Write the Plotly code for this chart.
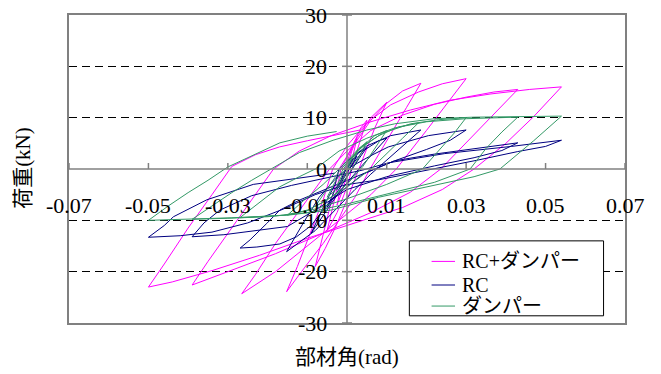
import plotly.graph_objects as go

# ---------------- data ----------------
x_tick_vals = [-0.07, -0.05, -0.03, -0.01, 0.01, 0.03, 0.05, 0.07]
x_tick_text = ["-0.07", "-0.05", "-0.03", "-0.01", "0.01", "0.03", "0.05", "0.07"]
y_tick_vals = [-30, -20, -10, 0, 10, 20, 30]
y_tick_text = ["-30", "-20", "-10", "0", "10", "20", "30"]
y_grid_vals = [-20, -10, 10, 20]

series_names = ["RC+ダンパー", "RC", "ダンパー"]
series_colors = ["#FF00FF", "#000080", "#339966"]

rc_damper_x = [
    0, 0.0012, 0.0025, 0.0012, -0.0005, -0.0015, -0.0025, -0.0012, 0.0005, 0.002, 0.0035, 0.005,
    0.0025, 0.0, -0.0025, -0.005, -0.003, -0.0015, 0.002, 0.006, 0.010, 0.007, 0.003, 0.0,
    -0.003, -0.0055, -0.008, -0.006, -0.004, -0.002,
    0.002, 0.006, 0.010, 0.014, 0.0186, 0.015, 0.0105, 0.0058, 0.002, -0.002, -0.006, -0.010,
    -0.0152, -0.0125, -0.009, -0.006, -0.0036,
    0.0, 0.005, 0.011, 0.018, 0.024, 0.030, 0.026, 0.020, 0.0124, 0.006, -0.002, -0.010, -0.018,
    -0.0265, -0.023, -0.018, -0.011, -0.0044,
    0.0, 0.006, 0.014, 0.022, 0.030, 0.037, 0.043, 0.038, 0.031, 0.0236, 0.016, 0.006, -0.006,
    -0.018, -0.030, -0.039, -0.035, -0.029, -0.024, -0.0185,
    -0.012, -0.004, 0.006, 0.016, 0.026, 0.036, 0.046, 0.054, 0.047, 0.040, 0.032, 0.024, 0.014,
    0.002, -0.010, -0.022, -0.034, -0.044, -0.050, -0.046, -0.040, -0.034, -0.029, -0.023, -0.017,
    -0.010, -0.004, 0.0033,
]
rc_damper_y = [
    0, 3.5, 6.0, 1.5, -2.5, -5.0, -7.0, -2.0, 2.5, 5.5, 8.0, 9.5,
    3.5, -3.5, -8.5, -12.0, -5.5, 0.0, 5.5, 10.0, 13.0, 8.0, 0.0, -6.0,
    -11.5, -15.5, -19.0, -13.0, -6.5, 0.0,
    5.0, 9.5, 12.8, 15.2, 16.7, 12.0, 6.0, 0.0, -5.5, -10.0, -14.5, -18.5,
    -23.9, -19.0, -12.0, -6.0, 0.0,
    4.5, 9.0, 12.5, 15.0, 16.6, 17.6, 13.5, 7.5, 0.0, -5.0, -10.0, -15.0, -20.0,
    -24.3, -20.5, -14.5, -7.0, 0.0,
    3.5, 7.5, 10.5, 12.6, 14.0, 15.0, 15.5, 11.5, 6.0, 0.0, -4.5, -8.5, -12.5,
    -16.5, -20.0, -22.6, -18.0, -11.5, -6.0, 0.0,
    3.5, 6.5, 9.2, 11.5, 13.4, 14.6, 15.5, 16.0, 10.2, 5.0, 0.0, -4.0, -7.5,
    -10.5, -13.5, -16.8, -19.8, -22.0, -23.0, -18.5, -11.5, -5.0, 0.5, 2.8, 4.3,
    5.5, 6.4, 7.6,
]

rc_x = [
    0, 0.0012, 0.0025, 0.001, -0.001, -0.0025, -0.001, 0.001, 0.003, 0.005, 0.003, 0.0,
    -0.003, -0.005, -0.003, 0.0, 0.004, 0.008, 0.010, 0.007, 0.003, -0.002, -0.006, -0.009,
    -0.006, -0.003, -0.002,
    0.0, 0.005, 0.011, 0.0186, 0.014, 0.009, 0.006, 0.002, -0.003, -0.008, -0.0152, -0.011,
    -0.007, -0.003, 0.0,
    0.006, 0.0104, 0.0205, 0.030, 0.026, 0.020, 0.012, 0.004, -0.004, -0.009, -0.0127, -0.0169,
    -0.0227, -0.0269, -0.0244, -0.0202, -0.0169, -0.0118, -0.004, 0.005,
    0.012, 0.022, 0.033, 0.043, 0.039, 0.032, 0.022, 0.010, 0.0, -0.008, -0.015, -0.0244,
    -0.031, -0.039, -0.036, -0.032, -0.024, -0.014, -0.004, 0.004,
    0.0104, 0.0246, 0.0414, 0.054, 0.050, 0.043, 0.033, 0.0205, 0.008, -0.0005, -0.008, -0.016,
    -0.025, -0.034, -0.042, -0.050, -0.046, -0.0437, -0.0353, -0.0236, -0.0118, -0.003,
]
rc_y = [
    0, 1.5, 2.5, 0.5, -2.0, -4.0, -1.2, 1.5, 3.2, 4.2, 2.0, -1.5,
    -5.0, -7.5, -4.0, -0.5, 3.5, 5.5, 6.0, 3.5, 0.0, -4.5, -9.0, -12.5,
    -7.5, -3.0, 0.0,
    1.5, 4.5, 6.5, 7.6, 4.5, 1.0, -1.0, -4.0, -8.0, -12.0, -16.1, -10.5,
    -5.5, -2.0, 0.0,
    2.6, 4.3, 6.5, 7.6, 5.6, 3.8, 1.6, -1.0, -6.0, -11.0, -13.2, -14.6,
    -15.2, -15.4, -13.8, -10.6, -8.0, -6.0, -3.5, -0.5,
    1.6, 2.9, 4.0, 5.1, 3.6, 2.2, 0.6, -1.5, -4.0, -8.0, -11.2, -12.2,
    -12.8, -13.2, -10.5, -8.0, -5.2, -3.2, -1.6, -0.2,
    1.2, 3.0, 4.4, 5.6, 4.4, 3.4, 1.75, -0.2, -2.1, -3.1, -5.0, -7.8,
    -10.5, -12.3, -13.0, -13.3, -11.0, -9.3, -6.0, -3.0, -1.8, -0.8,
]

damper_x = [
    0, 0.0012, 0.0025, 0.001, -0.001, -0.0025, -0.001, 0.001, 0.003, 0.005, 0.003, 0.0,
    -0.003, -0.005, -0.003, 0.0, 0.004, 0.007, 0.010, 0.007, 0.004, 0.0, -0.004, -0.008,
    -0.005, -0.002,
    0.003, 0.008, 0.013, 0.018, 0.014, 0.009, 0.006, 0.0, -0.006, -0.010, -0.015, -0.011,
    -0.006, -0.002,
    0.003, 0.009, 0.016, 0.023, 0.030, 0.027, 0.023, 0.019, 0.010, 0.0, -0.008, -0.016,
    -0.027, -0.022, -0.017, -0.012, -0.008,
    -0.002, 0.005, 0.012, 0.020, 0.030, 0.043, 0.039, 0.035, 0.031, 0.022, 0.012, 0.0,
    -0.010, -0.020, -0.030, -0.039, -0.034, -0.029, -0.024, -0.019,
    -0.012, -0.0035, 0.005, 0.012, 0.022, 0.032, 0.043, 0.054, 0.047, 0.041, 0.0385, 0.032,
    0.020, 0.008, -0.004, -0.015, -0.029, -0.040, -0.050, -0.045, -0.040, -0.035, -0.030,
    -0.0169, -0.010, -0.0026,
]
damper_y = [
    0, 2.0, 3.2, 0.8, -1.8, -3.2, -0.8, 1.8, 4.0, 5.3, 2.3, -1.5,
    -4.2, -5.5, -2.5, 1.0, 4.5, 6.5, 7.5, 4.0, 0.5, -3.0, -5.5, -7.3,
    -3.8, -0.5,
    3.8, 6.5, 8.2, 9.0, 6.0, 2.2, 0.0, -3.5, -6.5, -8.0, -9.0, -6.2,
    -3.0, 0.0,
    4.0, 7.0, 8.8, 9.6, 10.0, 7.0, 3.5, 0.0, -3.0, -5.8, -7.8, -9.0,
    -9.5, -6.5, -3.5, -1.5, 0.0,
    3.5, 6.0, 8.0, 9.2, 9.8, 10.1, 7.2, 4.0, 0.0, -2.6, -4.5, -6.8,
    -8.5, -9.3, -9.6, -9.8, -7.2, -4.6, -2.2, 0.0,
    3.2, 5.6, 7.6, 8.8, 9.8, 10.1, 10.2, 10.3, 5.5, 1.5, 0.0, -1.5,
    -3.5, -5.5, -8.0, -9.0, -9.5, -9.8, -10.0, -7.2, -4.6, -2.2, 0.4,
    5.1, 6.4, 7.3,
]

x_title = "部材角(rad)"
y_title = "荷重(kN)"

# ---------------- figure ----------------
FONT = "Liberation Serif, 'Times New Roman', 'Noto Sans CJK JP', serif"
AXIS_GRAY = "#808080"

fig = go.Figure()
for xs, ys, name, color in zip(
    [rc_damper_x, rc_x, damper_x],
    [rc_damper_y, rc_y, damper_y],
    series_names, series_colors,
):
    fig.add_trace(go.Scatter(x=xs, y=ys, mode="lines", name=name,
                             line=dict(color=color, width=1), showlegend=False,
                             hoverinfo="skip"))

shapes = []
# axis lines crossing at the origin
shapes.append(dict(type="line", xref="x", yref="y", x0=-0.07, x1=0.07, y0=0, y1=0,
                   line=dict(color=AXIS_GRAY, width=1.5), layer="above"))
shapes.append(dict(type="line", xref="x", yref="y", x0=0, x1=0, y0=-30, y1=30,
                   line=dict(color=AXIS_GRAY, width=1.5), layer="above"))
# x tick marks (upward from the x axis)
for v in x_tick_vals:
    shapes.append(dict(type="line", xref="x", yref="y", ysizemode="pixel", yanchor=0,
                       x0=v, x1=v, y0=0, y1=6, line=dict(color=AXIS_GRAY, width=1.5),
                       layer="above"))
# y tick marks (crossing the y axis)
for v in y_tick_vals:
    shapes.append(dict(type="line", xref="x", yref="y", xsizemode="pixel", xanchor=0,
                       x0=-5, x1=5, y0=v, y1=v, line=dict(color=AXIS_GRAY, width=1.5),
                       layer="above"))

annotations = []
for v, t in zip(x_tick_vals, x_tick_text):
    annotations.append(dict(x=v, y=0, xref="x", yref="y", text=t, showarrow=False,
                            xanchor="center", yanchor="middle", yshift=-36,
                            font=dict(family=FONT, size=22, color="black")))
for v, t in zip(y_tick_vals, y_tick_text):
    annotations.append(dict(x=0, y=v, xref="x", yref="y", text=t, showarrow=False,
                            xanchor="right", yanchor="middle", xshift=-18,
                            font=dict(family=FONT, size=22, color="black")))
annotations.append(dict(x=0.5, y=-0.109, xref="paper", yref="paper", text=x_title,
                        showarrow=False, xanchor="center", yanchor="middle",
                        font=dict(family=FONT, size=21, color="black")))
annotations.append(dict(x=-0.082, y=0.505, xref="paper", yref="paper", text=y_title,
                        showarrow=False, xanchor="center", yanchor="middle", textangle=-90,
                        font=dict(family=FONT, size=21, color="black")))

# legend (drawn box, samples and labels)
shapes.append(dict(type="rect", xref="x", yref="y", x0=0.0157, x1=0.0646, y0=-28.6, y1=-14.0,
                   fillcolor="white", line=dict(color="black", width=1), layer="above"))
legend_rows = [-18.0, -22.6, -26.7]
for name, color, yy in zip(series_names, series_colors, legend_rows):
    shapes.append(dict(type="line", xref="x", yref="y", x0=0.0213, x1=0.0272, y0=yy, y1=yy,
                       line=dict(color=color, width=1), layer="above"))
    annotations.append(dict(x=0.0284, y=yy, xref="x", yref="y", text=name, showarrow=False,
                            xanchor="left", yanchor="middle",
                            font=dict(family=FONT, size=20, color="black")))

fig.update_layout(
    width=661, height=374,
    margin=dict(l=69, r=36, t=15, b=51),
    paper_bgcolor="white", plot_bgcolor="white",
    shapes=shapes, annotations=annotations,
    showlegend=False,
    xaxis=dict(range=[-0.07, 0.07], showgrid=False, zeroline=False, showticklabels=False,
               ticks="", showline=True, mirror=True, linecolor=AXIS_GRAY, linewidth=1.5),
    yaxis=dict(range=[-30, 30], tickvals=y_grid_vals, showgrid=True, gridcolor="black",
               gridwidth=1, griddash="8px,5px", zeroline=False, showticklabels=False,
               ticks="", showline=True, mirror=True, linecolor=AXIS_GRAY, linewidth=1.5),
)

fig.write_html("out.html", config={"displayModeBar": False},
               post_script="document.body.style.margin='0';")
